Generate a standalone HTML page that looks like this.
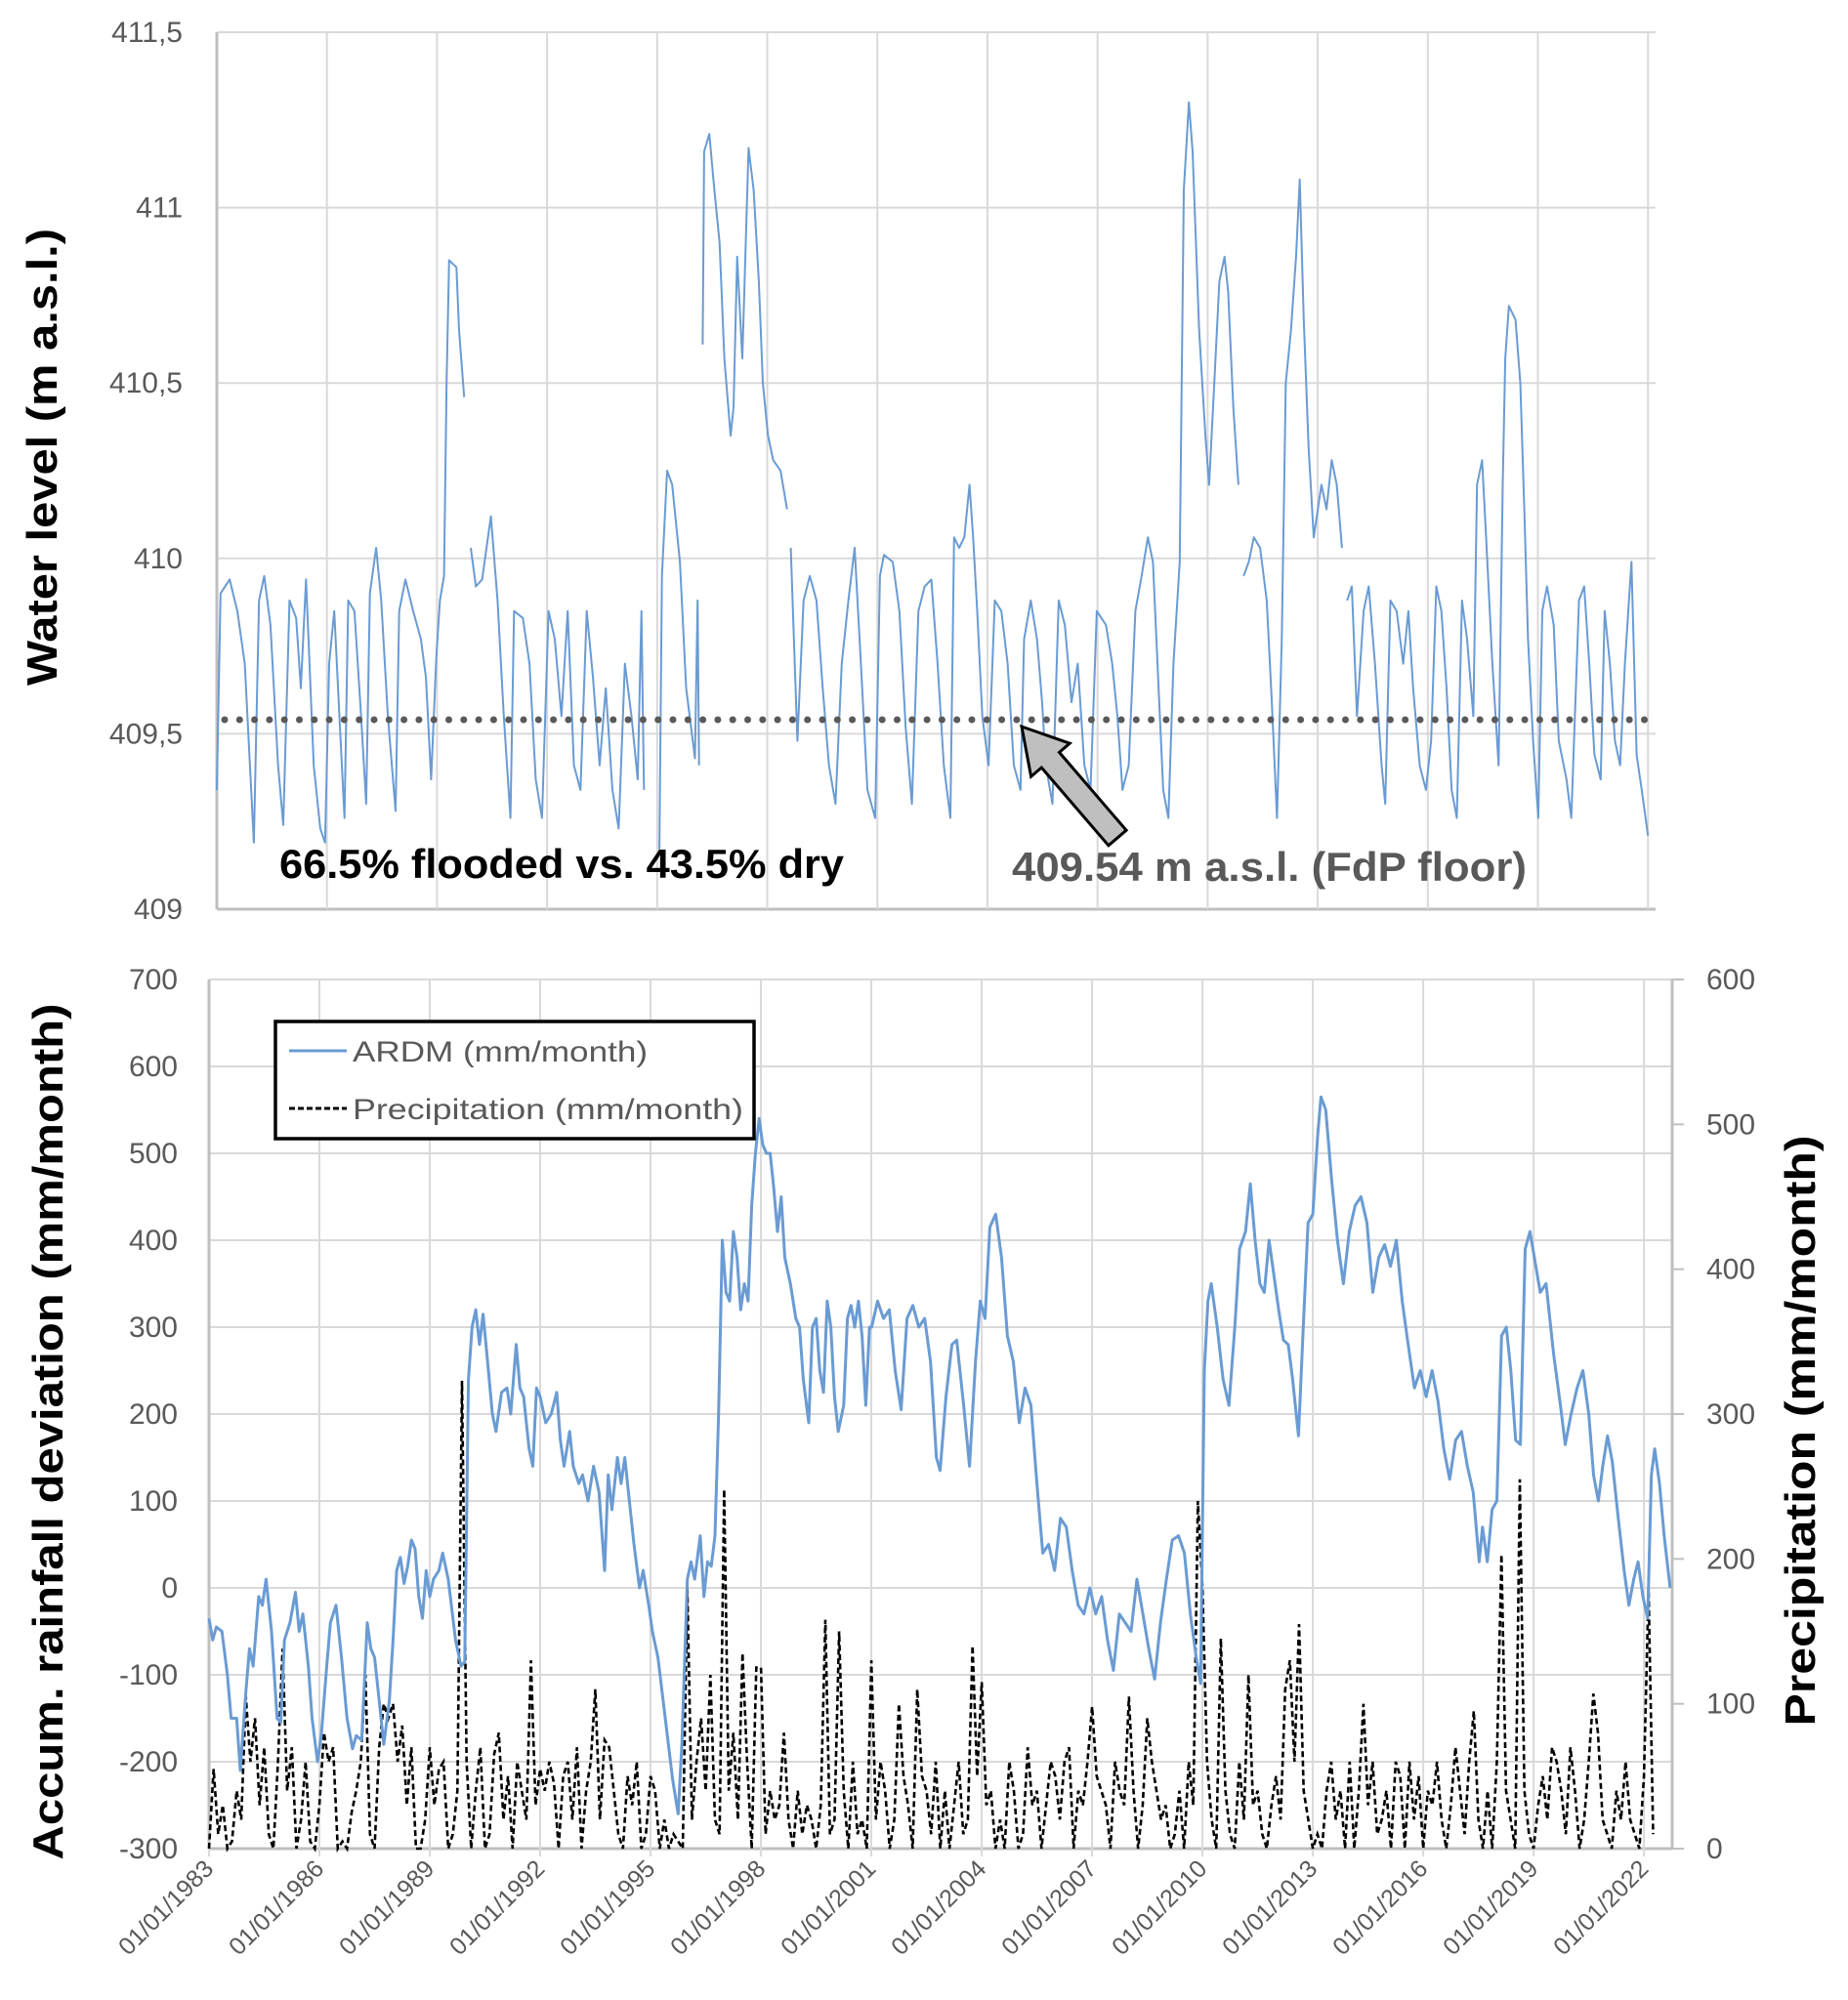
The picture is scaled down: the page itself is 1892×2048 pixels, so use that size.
<!DOCTYPE html>
<html><head><meta charset="utf-8"><style>
html,body{margin:0;padding:0;background:#fff}
svg{display:block;font-family:"Liberation Sans",sans-serif}
</style></head><body>
<svg id="chart" width="1892" height="2048" viewBox="0 0 1892 2048" xmlns="http://www.w3.org/2000/svg">
<g id="topChart"></g>
<g id="botChart"></g>
<polygon points="1046,744 1095.2,761.2 1084.5,770.4 1153.1,850.2 1134.9,865.8 1066.3,786 1055.6,795.2" fill="#bfbfbf" stroke="#000" stroke-width="3" stroke-linejoin="miter"/>
<text x="286" y="899" font-size="42" font-weight="bold" fill="#000" textLength="578" lengthAdjust="spacingAndGlyphs">66.5% flooded vs. 43.5% dry</text>
<text x="1036" y="902" font-size="42" font-weight="bold" fill="#595959" textLength="527" lengthAdjust="spacingAndGlyphs">409.54 m a.s.l. (FdP floor)</text>
<text transform="translate(58,468) rotate(-90)" text-anchor="middle" font-size="44" font-weight="bold" fill="#000" textLength="468" lengthAdjust="spacingAndGlyphs">Water level (m a.s.l.)</text>
<text transform="translate(64,1466) rotate(-90)" text-anchor="middle" font-size="44" font-weight="bold" fill="#000" textLength="877" lengthAdjust="spacingAndGlyphs">Accum. rainfall deviation (mm/month)</text>
<text transform="translate(1858,1465) rotate(-90)" text-anchor="middle" font-size="44" font-weight="bold" fill="#000" textLength="605" lengthAdjust="spacingAndGlyphs">Precipitation (mm/month)</text>
<g>
<rect x="282" y="1046" width="490" height="120" fill="#fff" stroke="#000" stroke-width="3.5"/>
<line x1="296" y1="1076" x2="355" y2="1076" stroke="#6a9bd3" stroke-width="3"/>
<text x="361" y="1087" font-size="30" fill="#595959" textLength="302" lengthAdjust="spacingAndGlyphs">ARDM (mm/month)</text>
<line x1="296" y1="1135" x2="355" y2="1135" stroke="#000" stroke-width="3" stroke-dasharray="6 3"/>
<text x="361" y="1146" font-size="30" fill="#595959" textLength="400" lengthAdjust="spacingAndGlyphs">Precipitation (mm/month)</text>
</g>
</svg>
<script>
// ---- Water level data (decimal year, m a.s.l.; null = gap)
const wlYears = [1983.00,1983.10,1983.35,1983.56,1983.76,1984.01,1984.15,1984.29,1984.46,1984.67,1984.81,1984.98,1985.16,1985.29,1985.43,1985.64,1985.82,1985.95,1986.06,1986.20,1986.34,1986.48,1986.58,1986.75,1986.93,1987.07,1987.17,1987.34,1987.48,1987.66,1987.87,1987.97,1988.14,1988.35,1988.56,1988.70,1988.84,1988.98,1989.08,1989.19,1989.26,1989.33,1989.53,1989.60,1989.74,1989.80,1989.92,1990.06,1990.23,1990.47,1990.65,1990.82,1991.00,1991.10,1991.34,1991.52,1991.69,1991.86,1992.04,1992.21,1992.39,1992.56,1992.73,1992.91,1993.08,1993.25,1993.43,1993.60,1993.78,1993.95,1994.12,1994.30,1994.47,1994.57,1994.64,1994.80,1995.06,1995.13,1995.27,1995.41,1995.62,1995.79,1996.03,1996.10,1996.14,1996.20,1996.24,1996.28,1996.42,1996.56,1996.70,1996.83,1997.00,1997.08,1997.18,1997.32,1997.49,1997.63,1997.77,1997.88,1998.02,1998.16,1998.36,1998.54,1998.60,1998.64,1998.82,1998.99,1999.16,1999.34,1999.51,1999.68,1999.86,2000.03,2000.21,2000.38,2000.55,2000.73,2000.94,2001.07,2001.18,2001.42,2001.60,2001.77,2001.94,2002.12,2002.29,2002.47,2002.64,2002.81,2002.99,2003.09,2003.23,2003.37,2003.51,2003.61,2003.72,2003.86,2004.03,2004.20,2004.38,2004.55,2004.72,2004.90,2005.00,2005.18,2005.35,2005.49,2005.59,2005.77,2005.94,2006.11,2006.29,2006.46,2006.64,2006.81,2006.98,2007.23,2007.40,2007.54,2007.68,2007.85,2008.03,2008.20,2008.37,2008.51,2008.65,2008.79,2008.93,2009.07,2009.24,2009.35,2009.49,2009.59,2009.77,2009.94,2010.04,2010.18,2010.32,2010.46,2010.56,2010.70,2010.84,2010.90,2010.98,2011.12,2011.26,2011.43,2011.61,2011.75,2011.89,2012.02,2012.13,2012.27,2012.41,2012.51,2012.62,2012.75,2012.89,2013.10,2013.24,2013.38,2013.52,2013.66,2013.73,2013.80,2013.93,2014.07,2014.25,2014.39,2014.56,2014.74,2014.84,2014.98,2015.15,2015.33,2015.47,2015.60,2015.78,2015.95,2016.09,2016.23,2016.37,2016.51,2016.65,2016.79,2016.93,2017.07,2017.24,2017.34,2017.48,2017.59,2017.76,2017.93,2018.04,2018.11,2018.21,2018.39,2018.52,2018.63,2018.73,2018.87,2019.01,2019.12,2019.25,2019.43,2019.57,2019.78,2019.91,2020.12,2020.26,2020.40,2020.54,2020.71,2020.82,2020.96,2021.10,2021.24,2021.37,2021.55,2021.69,2021.83,2022.00];
const wlValues = [409.34,409.90,409.94,409.85,409.70,409.19,409.88,409.95,409.81,409.41,409.24,409.88,409.83,409.63,409.94,409.41,409.23,409.19,409.70,409.85,409.55,409.26,409.88,409.85,409.55,409.30,409.90,410.03,409.88,409.55,409.28,409.85,409.94,409.85,409.77,409.66,409.37,409.72,409.88,409.95,410.50,410.85,410.83,410.65,410.46,null,410.03,409.92,409.94,410.12,409.88,409.55,409.26,409.85,409.83,409.70,409.37,409.26,409.85,409.77,409.55,409.85,409.41,409.34,409.85,409.66,409.41,409.63,409.34,409.23,409.70,409.55,409.37,409.85,409.34,null,409.17,409.95,410.25,410.21,409.99,409.63,409.43,409.88,409.41,null,410.61,411.16,411.21,411.05,410.90,410.57,410.35,410.43,410.86,410.57,411.17,411.05,410.79,410.50,410.35,410.28,410.25,410.14,null,410.03,409.48,409.88,409.95,409.88,409.63,409.41,409.30,409.70,409.88,410.03,409.70,409.34,409.26,409.95,410.01,409.99,409.85,409.52,409.30,409.85,409.92,409.94,409.70,409.41,409.26,410.06,410.03,410.06,410.21,410.06,409.85,409.55,409.41,409.88,409.85,409.70,409.41,409.34,409.77,409.88,409.77,409.59,409.41,409.30,409.88,409.81,409.59,409.70,409.41,409.34,409.85,409.81,409.70,409.55,409.34,409.41,409.85,409.95,410.06,409.99,409.66,409.34,409.26,409.70,409.99,411.05,411.30,411.16,410.65,410.35,410.21,410.50,410.79,410.86,410.76,410.43,410.21,null,409.95,409.99,410.06,410.03,409.88,409.59,409.26,409.77,410.50,410.65,410.86,411.08,410.68,410.32,410.06,410.21,410.14,410.28,410.21,410.03,null,409.88,409.92,409.55,409.85,409.92,409.70,409.41,409.30,409.88,409.85,409.70,409.85,409.63,409.41,409.34,409.48,409.92,409.85,409.63,409.34,409.26,409.88,409.77,409.55,410.21,410.28,410.06,409.70,409.41,410.21,410.57,410.72,410.68,410.50,410.14,409.77,409.48,409.26,409.85,409.92,409.81,409.48,409.37,409.26,409.88,409.92,409.70,409.44,409.37,409.85,409.70,409.48,409.41,409.70,409.99,409.44,409.34,409.21];
const wlTicks = [409,409.5,410,410.5,411,411.5];
const wlTickLabels = ["409","409,5","410","410,5","411","411,5"];
const floorLevel = 409.54;

// ---- ARDM data (decimal year, mm/month)
const ardmYears = [1983.0,1983.1,1983.2,1983.35,1983.5,1983.6,1983.75,1983.85,1984.0,1984.1,1984.2,1984.35,1984.45,1984.55,1984.7,1984.85,1984.95,1985.05,1985.2,1985.35,1985.45,1985.55,1985.7,1985.8,1985.95,1986.05,1986.2,1986.3,1986.45,1986.6,1986.75,1986.9,1987.0,1987.15,1987.3,1987.4,1987.5,1987.65,1987.75,1987.9,1988.0,1988.1,1988.2,1988.3,1988.4,1988.5,1988.6,1988.7,1988.8,1988.9,1989.0,1989.1,1989.25,1989.35,1989.5,1989.7,1989.85,1989.95,1990.05,1990.15,1990.25,1990.35,1990.45,1990.55,1990.7,1990.8,1990.95,1991.1,1991.2,1991.35,1991.45,1991.55,1991.7,1991.8,1991.9,1992.0,1992.15,1992.3,1992.45,1992.55,1992.65,1992.8,1992.9,1993.05,1993.15,1993.3,1993.45,1993.6,1993.75,1993.85,1993.95,1994.1,1994.2,1994.3,1994.4,1994.55,1994.7,1994.8,1994.95,1995.05,1995.2,1995.4,1995.6,1995.75,1995.85,1996.0,1996.1,1996.2,1996.35,1996.45,1996.55,1996.65,1996.75,1996.85,1996.95,1997.05,1997.15,1997.25,1997.35,1997.45,1997.55,1997.65,1997.75,1997.85,1997.95,1998.05,1998.15,1998.25,1998.35,1998.45,1998.55,1998.65,1998.8,1998.95,1999.05,1999.15,1999.3,1999.4,1999.5,1999.6,1999.7,1999.8,1999.9,2000.0,2000.1,2000.25,2000.35,2000.45,2000.55,2000.65,2000.75,2000.85,2000.95,2001.01,2001.17,2001.33,2001.49,2001.65,2001.81,2001.97,2002.13,2002.29,2002.45,2002.61,2002.77,2002.87,2003.03,2003.19,2003.32,2003.51,2003.67,2003.83,2003.96,2004.09,2004.22,2004.38,2004.54,2004.70,2004.86,2005.02,2005.18,2005.34,2005.50,2005.66,2005.82,2005.98,2006.14,2006.30,2006.46,2006.62,2006.78,2006.94,2007.10,2007.26,2007.42,2007.58,2007.74,2007.90,2008.06,2008.22,2008.38,2008.54,2008.70,2008.86,2009.02,2009.18,2009.35,2009.51,2009.67,2009.83,2009.95,2010.05,2010.15,2010.24,2010.40,2010.56,2010.72,2010.88,2011.01,2011.17,2011.30,2011.43,2011.56,2011.68,2011.81,2011.94,2012.07,2012.20,2012.33,2012.45,2012.61,2012.74,2012.87,2013.00,2013.13,2013.22,2013.35,2013.51,2013.67,2013.83,2013.99,2014.15,2014.31,2014.47,2014.63,2014.79,2014.95,2015.11,2015.27,2015.43,2015.59,2015.76,2015.92,2016.08,2016.24,2016.40,2016.56,2016.72,2016.88,2017.04,2017.20,2017.36,2017.52,2017.61,2017.74,2017.87,2018.00,2018.13,2018.26,2018.38,2018.51,2018.64,2018.77,2018.90,2019.02,2019.18,2019.34,2019.54,2019.73,2019.86,2020.02,2020.18,2020.34,2020.50,2020.63,2020.76,2020.88,2021.01,2021.14,2021.30,2021.46,2021.59,2021.72,2021.84,2021.97,2022.10,2022.20,2022.29,2022.42,2022.55,2022.71];
const ardmValues = [-35,-60,-45,-50,-100,-150,-150,-210,-120,-70,-90,-10,-20,10,-50,-150,-155,-60,-40,-5,-50,-30,-90,-150,-200,-170,-90,-40,-20,-80,-150,-185,-170,-175,-40,-70,-80,-140,-180,-130,-60,20,35,5,25,55,45,-10,-35,20,-10,10,20,40,10,-60,-90,-85,240,300,320,280,315,270,200,180,225,230,200,280,230,220,160,140,230,220,190,200,225,170,140,180,140,120,130,100,140,110,20,130,90,150,120,150,110,50,0,20,-20,-50,-80,-150,-220,-260,-180,10,30,10,60,-10,30,25,60,200,400,340,330,410,380,320,350,330,440,500,540,510,500,500,460,410,450,380,350,310,300,240,190,300,310,250,225,330,300,220,180,210,310,325,300,330,290,210,300,300,330,310,320,250,205,310,325,300,310,260,150,135,220,280,285,210,140,260,330,310,415,430,380,290,260,190,230,210,120,40,50,20,80,70,20,-20,-30,0,-30,-10,-60,-95,-30,-40,-50,10,-30,-70,-105,-40,10,55,60,40,-30,-80,-110,250,330,350,300,240,210,300,390,410,465,400,350,340,400,360,320,285,280,240,175,300,420,430,520,565,550,470,400,350,410,440,450,420,340,380,395,370,400,330,280,230,250,220,250,215,160,125,170,180,140,110,30,70,30,90,100,290,300,250,170,165,390,410,380,340,350,270,210,165,200,230,250,200,130,100,140,175,145,80,20,-20,10,30,-10,-35,130,160,120,60,0];
const ardmTicks = [-300,-200,-100,0,100,200,300,400,500,600,700];

// ---- Precipitation data (8 readings per year from 1983.0, mm/month)
const precipStart = 1983.0;
const precipPerYear = 8;
const precipValues = [
0,55,10,30,0,5,40,20, 105,60,90,30,70,10,0,60, 138,40,70,0,20,60,5,0, 30,80,60,70,0,5,0,25,
40,60,120,10,0,70,100,90, 100,60,85,30,70,0,0,20, 70,30,55,60,0,10,40,323, 60,0,40,70,0,10,65,80,
20,50,0,60,40,20,130,30, 55,40,60,45,0,50,60,20, 70,0,40,60,110,20,75,70, 40,10,0,50,30,60,0,10,
50,40,0,20,0,10,5,0, 180,20,60,90,40,120,20,10, 248,40,80,20,135,60,0,125, 125,10,40,20,30,80,20,0,
40,10,30,20,0,30,158,10, 20,150,40,0,60,10,20,0, 130,20,60,40,0,20,100,50, 30,0,110,50,40,10,60,0,
40,0,30,60,10,20,140,50, 115,30,40,0,20,0,60,40, 0,10,70,30,40,0,30,60, 50,20,60,70,0,40,30,60,
98,50,40,30,0,60,40,30, 105,40,0,30,90,60,40,20, 30,0,10,40,0,60,30,240, 180,60,20,0,145,40,10,0,
60,20,120,30,40,10,0,30, 50,20,110,130,60,155,40,20, 0,10,0,40,60,20,40,0, 60,0,40,100,30,60,10,20,
40,0,60,50,0,60,20,50, 0,40,30,60,20,0,30,70, 40,10,60,95,20,0,40,0, 60,203,40,20,0,255,40,10,
0,30,50,20,70,60,40,10, 70,40,0,20,60,107,80,20, 10,0,40,20,60,20,10,0, 50,180,10];
const precipTicks = [0,100,200,300,400,500,600];
const yearTicks = [1983,1986,1989,1992,1995,1998,2001,2004,2007,2010,2013,2016,2019,2022];

(function () {
const NS = "http://www.w3.org/2000/svg";
function mk(parent, tag, attrs, text) {
  const el = document.createElementNS(NS, tag);
  for (const k in attrs) el.setAttribute(k, attrs[k]);
  if (text !== undefined) el.textContent = text;
  parent.appendChild(el);
  return el;
}

// ---------- Top chart
const T = {l:222, r:1695, t:33, b:931};
const xT = y => T.l + (y - 1983) * 37.57;
const yT = v => T.b - (v - 409) * 359.2;
const gTop = document.getElementById('topChart');
wlTicks.forEach((v, i) => {
  const ln = mk(gTop, 'line', {x1:T.l, x2:T.r, y1:yT(v), y2:yT(v), stroke: i === 0 ? '#bfbfbf' : '#d9d9d9', 'stroke-width': i === 0 ? 3 : 2});
  
  
  const tx = mk(gTop, 'text', {x:187, y:yT(v) + 10, 'text-anchor':'end', 'font-size':30, fill:'#595959'}, wlTickLabels[i]);
  
  
});
yearTicks.forEach(yr => {
  const ln = mk(gTop, 'line', {x1:xT(yr), x2:xT(yr), y1:T.t, y2:T.b, stroke:'#d9d9d9', 'stroke-width':2});
  
  
});
const axT = mk(gTop, 'line', {x1:T.l, x2:T.l, y1:T.t, y2:T.b, stroke:'#bfbfbf', 'stroke-width':3});


let dW = '', pen = false;
const nW = Math.min(wlYears.length, wlValues.length);
for (let i = 0; i < nW; i++) {
  const v = wlValues[i];
  if (v === null || v === undefined) { pen = false; continue; }
  dW += (pen ? 'L' : 'M') + xT(wlYears[i]).toFixed(1) + ',' + yT(v).toFixed(1);
  pen = true;
}
const wl = mk(gTop, 'path', {d:dW, fill:'none', stroke:'#6a9bd3', 'stroke-width':2, 'stroke-linejoin':'round'});


const fl = mk(gTop, 'line', {x1:T.l + 8, x2:xT(2022), y1:yT(floorLevel), y2:yT(floorLevel), stroke:'#595959', 'stroke-width':7, 'stroke-linecap':'round', 'stroke-dasharray':'0 15.3'});



// ---------- Bottom chart
const B = {l:214, r:1712, t:1003, b:1893};
const xB = y => B.l + (y - 1983) * 37.67;
const yL = v => B.b - (v + 300) * 0.89;
const yR = p => B.b - p * 1.4833;
const gBot = document.getElementById('botChart');
ardmTicks.forEach(v => {
  const ln = mk(gBot, 'line', {x1:B.l, x2:B.r, y1:yL(v), y2:yL(v), stroke: v === -300 ? '#bfbfbf' : '#d9d9d9', 'stroke-width': v === -300 ? 3 : 2});
  
  
  const tx = mk(gBot, 'text', {x:182, y:yL(v) + 10, 'text-anchor':'end', 'font-size':30, fill:'#595959'}, String(v));
  
  
});
precipTicks.forEach(p => {
  const tk = mk(gBot, 'line', {x1:B.r, x2:B.r + 12, y1:yR(p), y2:yR(p), stroke:'#bfbfbf', 'stroke-width':2});
  
  
  const tx = mk(gBot, 'text', {x:1747, y:yR(p) + 10, 'font-size':30, fill:'#595959'}, String(p));
  
  
});
yearTicks.forEach(yr => {
  const ln = mk(gBot, 'line', {x1:xB(yr), x2:xB(yr), y1:B.t, y2:B.b + 8, stroke:'#d9d9d9', 'stroke-width':2});
  
  
  const tx = mk(gBot, 'text', {transform:'translate(' + (xB(yr) + 6) + ',' + (B.b + 22) + ') rotate(-45)', 'text-anchor':'end', 'font-size':25, fill:'#595959'}, '01/01/' + yr);
  
  
});
const axL = mk(gBot, 'line', {x1:B.l, x2:B.l, y1:B.t, y2:B.b, stroke:'#bfbfbf', 'stroke-width':3});


const axR = mk(gBot, 'line', {x1:B.r, x2:B.r, y1:B.t, y2:B.b, stroke:'#bfbfbf', 'stroke-width':3});


let dP = '';
precipValues.forEach((p, i) => {
  const yr = precipStart + i / precipPerYear;
  dP += (i ? 'L' : 'M') + xB(yr).toFixed(1) + ',' + yR(p).toFixed(1);
});
const pl = mk(gBot, 'path', {d:dP, fill:'none', stroke:'#000', 'stroke-width':2.6, 'stroke-dasharray':'6 3.5'});


let dA = '';
const nA = Math.min(ardmYears.length, ardmValues.length);
for (let i = 0; i < nA; i++) {
  dA += (i ? 'L' : 'M') + xB(ardmYears[i]).toFixed(1) + ',' + yL(ardmValues[i]).toFixed(1);
}
const al = mk(gBot, 'path', {d:dA, fill:'none', stroke:'#6a9bd3', 'stroke-width':3, 'stroke-linejoin':'round'});


})();
</script>
</body></html>
